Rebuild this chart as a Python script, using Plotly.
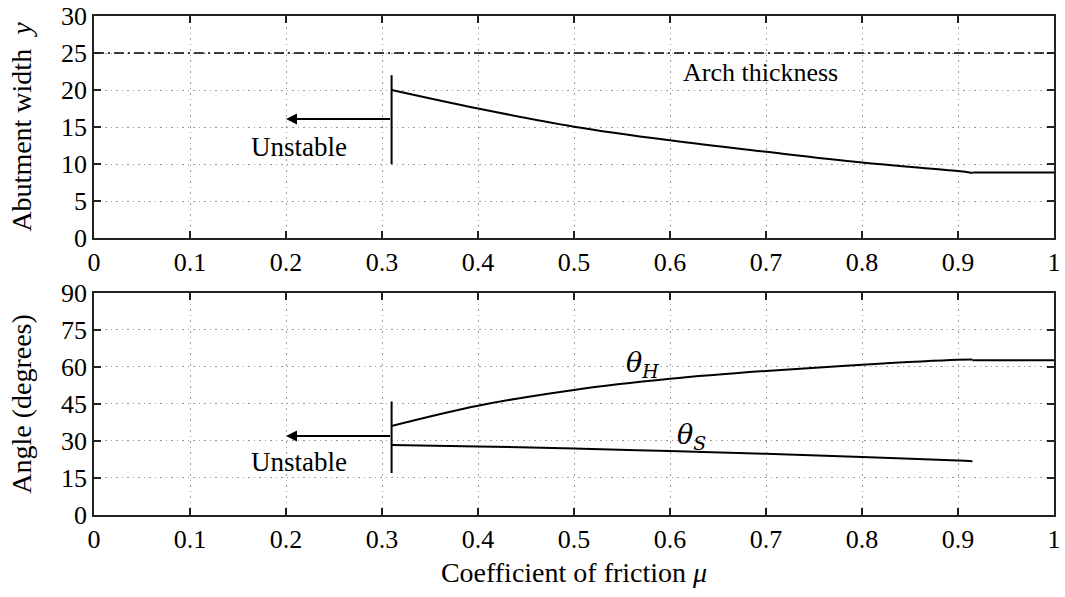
import plotly.graph_objects as go
from plotly.subplots import make_subplots

# ---- data ----
mu_curve = [0.31, 0.4, 0.5, 0.6, 0.7, 0.8, 0.9, 0.915]
abutment_width = [20.0, 17.5, 15.05, 13.2, 11.65, 10.2, 9.05, 8.8]
mu_flat = [0.915, 1.0]
abutment_flat = [8.85, 8.85]
arch_mu = [0.0, 1.0]
arch_thickness = [25.0, 25.0]

theta_H = [36.1, 44.3, 50.7, 55.2, 58.4, 60.9, 62.9, 63.0]
theta_H_flat = [62.7, 62.7]
theta_S = [28.4, 27.8, 27.0, 25.9, 24.8, 23.5, 22.1, 21.8]

mu_limit = 0.31
bar_top = [10.0, 22.0]
bar_bot = [17.0, 46.0]
arrow_tip_mu = 0.2
arrow_top_y = 16.1
arrow_bot_y = 32.0

x_ticks = [0, 0.1, 0.2, 0.3, 0.4, 0.5, 0.6, 0.7, 0.8, 0.9, 1.0]
x_tick_text = ["0", "0.1", "0.2", "0.3", "0.4", "0.5", "0.6", "0.7", "0.8", "0.9", "1"]
y_top_ticks = [0, 5, 10, 15, 20, 25, 30]
y_bot_ticks = [0, 15, 30, 45, 60, 75, 90]

FONT = "Liberation Serif"
BLACK = "black"

fig = make_subplots(rows=2, cols=1, vertical_spacing=0.11)

line = dict(color=BLACK, width=2)
fig.add_trace(go.Scatter(x=mu_curve, y=abutment_width, mode="lines", line=dict(line, shape="spline"), showlegend=False), 1, 1)
fig.add_trace(go.Scatter(x=mu_flat, y=abutment_flat, mode="lines", line=line, showlegend=False), 1, 1)
fig.add_trace(go.Scatter(x=arch_mu, y=arch_thickness, mode="lines", line=dict(color=BLACK, width=1.3, dash="10px,4px,2px,4px"), showlegend=False), 1, 1)
fig.add_trace(go.Scatter(x=[mu_limit, mu_limit], y=bar_top, mode="lines", line=line, showlegend=False), 1, 1)

fig.add_trace(go.Scatter(x=mu_curve, y=theta_H, mode="lines", line=dict(line, shape="spline"), showlegend=False), 2, 1)
fig.add_trace(go.Scatter(x=mu_flat, y=theta_H_flat, mode="lines", line=line, showlegend=False), 2, 1)
fig.add_trace(go.Scatter(x=mu_curve, y=theta_S, mode="lines", line=dict(line, shape="spline"), showlegend=False), 2, 1)
fig.add_trace(go.Scatter(x=[mu_limit, mu_limit], y=bar_bot, mode="lines", line=line, showlegend=False), 2, 1)

# arrows
for xr, yr, yv in [("x", "y", arrow_top_y), ("x2", "y2", arrow_bot_y)]:
    fig.add_annotation(x=arrow_tip_mu, y=yv, ax=mu_limit, ay=yv, xref=xr, yref=yr, axref=xr, ayref=yr,
                       text="", showarrow=True, arrowhead=2, arrowsize=1.1, arrowwidth=2, arrowcolor=BLACK)

tfont = dict(family=FONT, size=27, color=BLACK)
fig.add_annotation(x=0.214, y=12.3, xref="x", yref="y", text="Unstable", showarrow=False, font=tfont)
fig.add_annotation(x=0.214, y=21.4, xref="x2", yref="y2", text="Unstable", showarrow=False, font=tfont)
fig.add_annotation(x=0.694, y=22.3, xref="x", yref="y", text="Arch thickness", showarrow=False, font=dict(family=FONT, size=26, color=BLACK))
fig.add_annotation(x=0.571, y=61.0, xref="x2", yref="y2", text="<i>θ</i><sub><i>H</i></sub>", showarrow=False,
                   font=dict(family="DejaVu Serif", size=27, color=BLACK))
fig.add_annotation(x=0.622, y=31.8, xref="x2", yref="y2", text="<i>θ</i><sub><i>S</i></sub>", showarrow=False,
                   font=dict(family="DejaVu Serif", size=27, color=BLACK))

axis_common = dict(showline=True, linecolor="#222", linewidth=1.5, mirror="ticks", ticks="inside", ticklen=7,
                   tickcolor="#222", tickwidth=1.5, showgrid=True, gridcolor="#9a9a9a", griddash="1.5px,4px", gridwidth=1,
                   zeroline=False, automargin=False, ticklabeloverflow="allow",
                   tickfont=dict(family=FONT, size=26, color=BLACK))

title_font = dict(family=FONT, size=28, color=BLACK)
for r in (1, 2):
    fig.update_xaxes(axis_common, range=[0, 1], tickvals=x_ticks, ticktext=x_tick_text, row=r, col=1)
fig.update_yaxes(axis_common, range=[0, 30], tickvals=y_top_ticks, row=1, col=1,
                 title=dict(text="Abutment width  <i>y</i>", font=title_font, standoff=21))
fig.update_yaxes(axis_common, range=[0, 90], tickvals=y_bot_ticks, row=2, col=1,
                 title=dict(text="Angle (degrees)", font=title_font, standoff=21))
fig.update_xaxes(row=2, col=1, title=dict(text="Coefficient of friction <i>μ</i>", font=title_font, standoff=9))

fig.update_layout(width=1065, height=597, margin=dict(l=94, r=11, t=16, b=82, autoexpand=False),
                  paper_bgcolor="white", plot_bgcolor="white", font=dict(family=FONT, color=BLACK))
fig.update_layout(yaxis=dict(domain=[0.555, 1.0]), yaxis2=dict(domain=[0.0, 0.445]))

fig.write_html("out.html", config={"displayModeBar": False},
               post_script="document.body.style.margin='0px';")
